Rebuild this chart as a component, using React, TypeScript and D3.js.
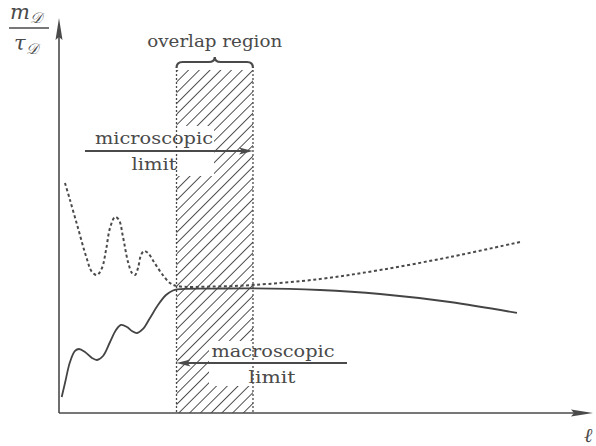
import React from "react";
import * as d3 from "d3";

// Data (abstract units: x 0..100, y 0..100)
const solidX = [0.51, 1.14, 2.09, 3.04, 3.8, 4.94, 6.27, 7.22, 8.37, 9.7, 10.84, 11.79, 12.93, 13.88, 14.83, 15.97, 17.3, 18.82, 20.34, 21.67, 22.43, 29.66, 36.88, 49.62, 61.03, 74.33, 87.07];
const solidY = [4.05, 7.59, 12.91, 15.7, 16.2, 15.44, 13.92, 13.42, 14.43, 17.97, 21.01, 22.28, 21.77, 20.76, 20.25, 21.27, 24.05, 27.34, 29.87, 31.01, 31.32, 31.49, 31.57, 31.14, 30.13, 28.1, 25.32];
const dottedX = [1.14, 2.09, 3.61, 5.13, 6.27, 7.22, 8.17, 8.94, 9.7, 10.65, 11.41, 12.17, 13.12, 13.88, 14.45, 15.02, 15.59, 16.16, 16.92, 18.06, 19.58, 21.1, 22.43, 29.66, 36.88, 49.62, 61.03, 74.33, 87.64];
const dottedY = [58.23, 53.92, 46.84, 39.75, 35.7, 34.94, 36.71, 41.27, 46.84, 49.62, 48.86, 44.56, 38.23, 35.44, 34.94, 36.71, 40.0, 41.01, 40.51, 38.23, 35.19, 32.91, 32.15, 32.03, 32.41, 33.92, 36.2, 39.49, 43.29];
const overlapRange = [22.34, 36.88];
const overlapTop = 86.84;
const microArrow = [4.94, 36.88, 66.33];
const macroArrow = [54.75, 22.34, 12.66];
const overlapLabel = "overlap region";
const microLabel = ["microscopic", "limit"];
const macroLabel = ["macroscopic", "limit"];

const W = 596;
const H = 446;
const x = d3.scaleLinear().domain([0, 100]).range([59, 585]);
const y = d3.scaleLinear().domain([0, 100]).range([413, 18]);

const ink = "#4a4a4a";
const font = "DejaVu Serif";

export default function App() {
  const solid = solidX.map((v, i) => [v, solidY[i]] as [number, number]);
  const dotted = dottedX.map((v, i) => [v, dottedY[i]] as [number, number]);
  const line = d3
    .line<[number, number]>()
    .x((d) => x(d[0]))
    .y((d) => y(d[1]))
    .curve(d3.curveCatmullRom.alpha(0.5));

  const ox0 = x(overlapRange[0]);
  const ox1 = x(overlapRange[1]);
  const oTop = y(overlapTop);
  const oBot = y(0);
  const cx = (ox0 + ox1) / 2;

  const my = y(microArrow[2]);
  const mx0 = x(microArrow[0]);
  const mx1 = x(microArrow[1]);
  const My = y(macroArrow[2]);
  const Mx0 = x(macroArrow[0]);
  const Mx1 = x(macroArrow[1]);

  const bTop = oTop - 8;
  const brace = `M${ox0},${bTop + 6} Q${ox0},${bTop} ${ox0 + 6},${bTop} L${cx - 6},${bTop} Q${cx},${bTop} ${cx},${bTop - 5} Q${cx},${bTop} ${cx + 6},${bTop} L${ox1 - 6},${bTop} Q${ox1},${bTop} ${ox1},${bTop + 6}`;

  return (
    <svg width={W} height={H} style={{ position: "absolute", left: 0, top: 0, background: "#fff" }}>
      <defs>
        <pattern id="hatch" patternUnits="userSpaceOnUse" width={7.6} height={7.6} patternTransform="rotate(45)">
          <line x1={0} y1={0} x2={0} y2={7.6} stroke="#333" strokeWidth={1.7} />
        </pattern>
        <clipPath id="oclip">
          <rect x={ox0} y={oTop} width={ox1 - ox0} height={oBot - oTop} />
        </clipPath>
      </defs>
      <rect width={W} height={H} fill="#fff" />

      {/* hatched overlap region */}
      <rect x={ox0} y={oTop} width={ox1 - ox0} height={oBot - oTop} fill="url(#hatch)" />
      {/* white boxes behind labels */}
      <g clipPath="url(#oclip)">
        <rect x={mx0} y={my - 25} width={214 - mx0} height={50} fill="#fff" />
        <rect x={209} y={My - 22} width={150} height={45} fill="#fff" />
      </g>
      <line x1={ox0} x2={ox0} y1={oTop} y2={oBot} stroke={ink} strokeWidth={1.3} strokeDasharray="2 2" />
      <line x1={ox1} x2={ox1} y1={oTop} y2={oBot} stroke={ink} strokeWidth={1.3} strokeDasharray="2 2" />
      <path d={brace} fill="none" stroke={ink} strokeWidth={2.2} />
      <text x={cx} y={bTop - 15} textAnchor="middle" fontFamily={font} fontSize={17} fill={ink} textLength={135} lengthAdjust="spacingAndGlyphs">
        {overlapLabel}
      </text>

      {/* axes */}
      <line x1={x(0)} x2={x(0)} y1={y(0)} y2={y(100) + 18} stroke={ink} strokeWidth={1.6} />
      <path d={`M${x(0)},${y(100)} L${x(0) + 3.5},${y(100) + 22} L${x(0)},${y(100) + 19} L${x(0) - 3.5},${y(100) + 22} Z`} fill={ink} />
      <line x1={x(0)} x2={593 - 18} y1={y(0)} y2={y(0)} stroke={ink} strokeWidth={1.6} />
      <path d={`M593,${y(0)} L571,${y(0) - 3.5} L574,${y(0)} L571,${y(0) + 3.5} Z`} fill={ink} />

      {/* curves */}
      <path d={line(dotted) || ""} fill="none" stroke="#4a4a4a" strokeWidth={2} strokeDasharray="3 2.6" />
      <path d={line(solid) || ""} fill="none" stroke="#444" strokeWidth={1.8} />

      {/* microscopic arrow */}
      <line x1={mx0} x2={mx1 - 10} y1={my} y2={my} stroke={ink} strokeWidth={1.8} />
      <path d={`M${mx1},${my} L${mx1 - 14},${my - 3.5} L${mx1 - 11},${my} L${mx1 - 14},${my + 3.5} Z`} fill={ink} />
      <text x={154} y={my - 7} textAnchor="middle" fontFamily={font} fontSize={17} fill={ink} textLength={118} lengthAdjust="spacingAndGlyphs">
        {microLabel[0]}
      </text>
      <text x={154} y={my + 19} textAnchor="middle" fontFamily={font} fontSize={17} fill={ink} textLength={45} lengthAdjust="spacingAndGlyphs">
        {microLabel[1]}
      </text>

      {/* macroscopic arrow */}
      <line x1={Mx0} x2={Mx1 + 10} y1={My} y2={My} stroke={ink} strokeWidth={1.8} />
      <path d={`M${Mx1},${My} L${Mx1 + 14},${My - 3.5} L${Mx1 + 11},${My} L${Mx1 + 14},${My + 3.5} Z`} fill={ink} />
      <text x={273} y={My - 6} textAnchor="middle" fontFamily={font} fontSize={17} fill={ink} textLength={123} lengthAdjust="spacingAndGlyphs">
        {macroLabel[0]}
      </text>
      <text x={272} y={My + 20} textAnchor="middle" fontFamily={font} fontSize={17} fill={ink} textLength={47} lengthAdjust="spacingAndGlyphs">
        {macroLabel[1]}
      </text>

      {/* y label m_D / tau_D */}
      <text x={10} y={19} fontFamily={font} fontSize={21} fontStyle="italic" fill={ink}>
        m<tspan fontSize={15} dy={4}>𝒟</tspan>
      </text>
      <line x1={9} x2={49} y1={28} y2={28} stroke={ink} strokeWidth={1.5} />
      <text x={14} y={50} fontFamily={font} fontSize={21} fontStyle="italic" fill={ink}>
        τ<tspan fontSize={15} dy={4}>𝒟</tspan>
      </text>

      {/* x label */}
      <text x={584} y={442} fontFamily={font} fontSize={20} fontStyle="italic" fill={ink}>
        ℓ
      </text>
    </svg>
  );
}
